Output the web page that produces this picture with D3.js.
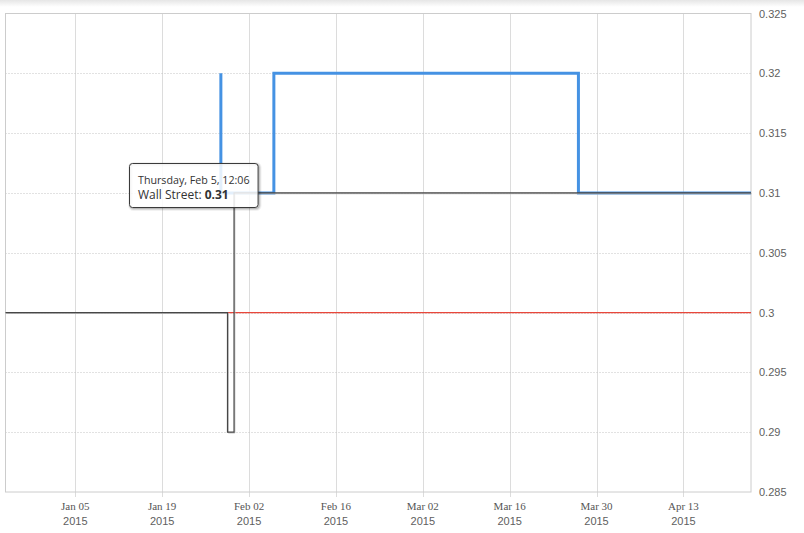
<!DOCTYPE html>
<html><head><meta charset="utf-8">
<script src="https://cdn.jsdelivr.net/npm/d3@7"></script>
<style>body{margin:0;background:#fff;} svg{display:block;}</style>
</head><body><svg id="c" width="804" height="533"></svg>
<script>
// ---- data ----
const xTickDates = ["2015-01-05","2015-01-19","2015-02-02","2015-02-16","2015-03-02","2015-03-16","2015-03-30","2015-04-13"];
const yTickValues = [0.285,0.29,0.295,0.3,0.305,0.31,0.315,0.32,0.325];
const xDomain = ["2014-12-24T18:00","2015-04-23T21:30"];
const yDomain = [0.285,0.325];
const wallStreet = [["2014-12-24T18:00",0.30],["2015-01-29T12:40",0.29],["2015-01-30T14:00",0.31],["2015-04-23T21:30",0.31]];
const actual = [["2015-01-29T13:00",0.30],["2015-04-23T21:30",0.30]];
const estimize = [["2015-01-28T11:00",0.32],["2015-01-28T11:00",0.31],["2015-02-06T00:00",0.32],["2015-03-27T02:00",0.31],["2015-04-23T21:30",0.31]];
const tooltipPoint = {date:"2015-02-05T12:06", value:0.31, header:"Thursday, Feb 5, 12:06", series:"Wall Street"};

// ---- chart ----
const pT = d3.utcParse("%Y-%m-%dT%H:%M"), pD = d3.utcParse("%Y-%m-%d");
const svg = d3.select("#c");
const L = 5.5, R = 751, T = 13.5, B = 492;
const x = d3.scaleUtc().domain(xDomain.map(pT)).range([L, R]);
const y = d3.scaleLinear().domain(yDomain).range([B, T]);

// top shadow strip
const defs = svg.append("defs");
const g1 = defs.append("linearGradient").attr("id","topsh").attr("x1",0).attr("x2",0).attr("y1",0).attr("y2",1);
g1.append("stop").attr("offset","0").attr("stop-color","#e6e6e6");
g1.append("stop").attr("offset","1").attr("stop-color","#ffffff");
svg.append("rect").attr("x",0).attr("y",0).attr("width",804).attr("height",7).attr("fill","url(#topsh)");

// vertical grid
svg.append("g").selectAll("line").data(xTickDates.map(pD)).join("line")
  .attr("x1",d=>Math.round(x(d))+0.5).attr("x2",d=>Math.round(x(d))+0.5)
  .attr("y1",T).attr("y2",B+5).attr("stroke","#dcdcdc").attr("stroke-width",1);

// horizontal dotted grid
svg.append("g").selectAll("line").data(yTickValues.slice(1,-1)).join("line")
  .attr("x1",L).attr("x2",R).attr("y1",d=>Math.round(y(d))+0.5).attr("y2",d=>Math.round(y(d))+0.5)
  .attr("stroke","#c4c4c4").attr("stroke-width",1).attr("stroke-dasharray","1,2");

// border
svg.append("rect").attr("x",L).attr("y",T).attr("width",R-L).attr("height",B-T)
  .attr("fill","none").attr("stroke","#cccccc").attr("stroke-width",1);

const line = d3.line().x(d=>x(pT(d[0]))).y(d=>y(d[1])).curve(d3.curveStepAfter);

svg.append("path").attr("d",line(estimize)).attr("fill","none").attr("stroke","#4592e3").attr("stroke-width",3);
svg.append("path").attr("d",line(actual)).attr("fill","none").attr("stroke","#e8473b").attr("stroke-width",1.3);
svg.append("path").attr("d",line(wallStreet)).attr("fill","none").attr("stroke","#bdbdbd").attr("stroke-width",1).attr("transform","translate(0.8,0.8)");
svg.append("path").attr("d",line(wallStreet)).attr("fill","none").attr("stroke","#474747").attr("stroke-width",1.2);

// x axis labels
const xl = svg.append("g");
xTickDates.map(pD).forEach(d=>{
  xl.append("text").attr("x",x(d)).attr("y",510).attr("text-anchor","middle")
    .attr("font-family","Liberation Serif, serif").attr("font-size",11).attr("fill","#555").text(d3.utcFormat("%b %d")(d));
  xl.append("text").attr("x",x(d)).attr("y",524.5).attr("text-anchor","middle")
    .attr("font-family","Liberation Sans, Arial, sans-serif").attr("font-size",11).attr("fill","#606060").text(d3.utcFormat("%Y")(d));
});

// y axis labels (right)
svg.append("g").selectAll("text").data(yTickValues).join("text")
  .attr("x",759).attr("y",d=>y(d)+4).attr("font-family","Liberation Sans, Arial, sans-serif")
  .attr("font-size",11).attr("fill","#606060").text(d=>String(+d.toFixed(3)));

// tooltip
const tp = svg.append("g");
const px = x(pT(tooltipPoint.date)), py = y(tooltipPoint.value);
const t1 = tp.append("text").attr("font-family","Open Sans, sans-serif").attr("font-size",10.7).attr("fill","#333").text(tooltipPoint.header);
const t2 = tp.append("text").attr("font-family","Open Sans, sans-serif").attr("font-size",12).attr("fill","#333");
t2.append("tspan").text(tooltipPoint.series + ": ");
t2.append("tspan").attr("font-weight","bold").text(String(tooltipPoint.value));
const w = Math.max(t1.node().getComputedTextLength(), t2.node().getComputedTextLength()) + 17;
const bx = Math.round(px - 13 - w) + 0.5, by = Math.round(py - 30) + 0.5, bh = 44;
[[0.05,5],[0.1,3],[0.15,1]].forEach(([o,sw])=>{
  tp.insert("rect","text").attr("x",bx+1).attr("y",by+1).attr("width",w).attr("height",bh).attr("rx",3)
    .attr("fill","none").attr("stroke","#000").attr("stroke-opacity",o).attr("stroke-width",sw);
});
tp.insert("rect","text").attr("x",bx).attr("y",by).attr("width",w).attr("height",bh).attr("rx",3)
  .attr("fill","rgba(255,255,255,0.85)").attr("stroke","#3a3a3a").attr("stroke-width",1);
t1.attr("x",bx+8.5).attr("y",by+20.5);
t2.attr("x",bx+8.5).attr("y",by+35.5);
</script></body></html>
